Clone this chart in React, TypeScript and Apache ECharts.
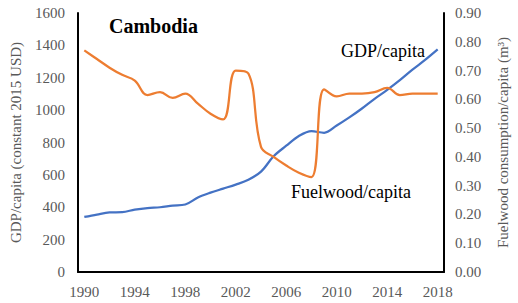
import React, { useEffect, useRef } from "react";
import * as echarts from "echarts";

const years = [
  "1990", "1991", "1992", "1993", "1994", "1995", "1996", "1997", "1998", "1999",
  "2000", "2001", "2002", "2003", "2004", "2005", "2006", "2007", "2008", "2009",
  "2010", "2011", "2012", "2013", "2014", "2015", "2016", "2017", "2018",
];

const gdpPerCapita = [
  340, 355, 368, 370, 385, 395, 400, 410, 417, 460,
  490, 515, 540, 570, 620, 715, 780, 840, 870, 860,
  905, 955, 1010, 1070, 1125, 1185, 1250, 1310, 1375,
];

const fuelwoodPerCapita = [
  0.77, 0.74, 0.71, 0.685, 0.665, 0.615, 0.625, 0.605, 0.62, 0.585,
  0.55, 0.53, 0.7, 0.69, 0.435, 0.4, 0.37, 0.345, 0.33, 0.635,
  0.61, 0.62, 0.62, 0.625, 0.64, 0.615, 0.62, 0.62, 0.62,
];

const leftTicks = { min: 0, max: 1600, interval: 200 };
const rightTicks = { min: 0, max: 0.9, interval: 0.1 };

const FONT = "Liberation Serif, serif";
const GRAY = "#595959";

export default function App() {
  const ref = useRef<HTMLDivElement>(null);

  useEffect(() => {
    if (!ref.current) return;
    document.body.style.margin = "0";
    const chart = echarts.init(ref.current, undefined, { renderer: "svg" });
    chart.setOption({
      animation: false,
      textStyle: { fontFamily: FONT },
      grid: { left: 73, right: 62, top: 13, bottom: 31, containLabel: false },
      xAxis: {
        type: "category",
        data: years,
        boundaryGap: true,
        axisLine: { show: true, lineStyle: { color: "#000", width: 2 } },
        axisTick: { show: false },
        axisLabel: {
          interval: 3,
          color: GRAY,
          fontSize: 15,
          fontFamily: FONT,
          margin: 12,
        },
        splitLine: { show: false },
      },
      yAxis: [
        {
          type: "value",
          min: leftTicks.min,
          max: leftTicks.max,
          interval: leftTicks.interval,
          position: "left",
          name: "GDP/capita (constant 2015 USD)",
          nameLocation: "middle",
          nameRotate: 90,
          nameGap: 55,
          nameTextStyle: { color: GRAY, fontSize: 15, fontFamily: FONT },
          axisLine: { show: true, lineStyle: { color: "#000", width: 2 } },
          axisTick: { show: false },
          axisLabel: {
            color: GRAY,
            fontSize: 15,
            fontFamily: FONT,
            margin: 13,
            formatter: (v: number) => String(v),
          },
          splitLine: { show: false },
        },
        {
          type: "value",
          min: rightTicks.min,
          max: rightTicks.max,
          interval: rightTicks.interval,
          position: "right",
          name: "Fuelwood consumption/capita (m³)",
          nameLocation: "middle",
          nameRotate: 90,
          nameGap: 51,
          nameTextStyle: { color: GRAY, fontSize: 15, fontFamily: FONT },
          axisLine: { show: true, lineStyle: { color: "#000", width: 2 } },
          axisTick: { show: false },
          axisLabel: {
            color: GRAY,
            fontSize: 15,
            fontFamily: FONT,
            margin: 11,
            formatter: (v: number) => v.toFixed(2),
          },
          splitLine: { show: false },
        },
      ],
      series: [
        {
          name: "GDP/capita",
          type: "line",
          yAxisIndex: 0,
          data: gdpPerCapita,
          smooth: 0.35,
          symbol: "none",
          lineStyle: { color: "#4472C4", width: 2.25 },
          itemStyle: { color: "#4472C4" },
          z: 2,
        },
        {
          name: "Fuelwood/capita",
          type: "line",
          yAxisIndex: 1,
          data: fuelwoodPerCapita,
          smooth: 0.4,
          symbol: "none",
          lineStyle: { color: "#ED7D31", width: 2.25 },
          itemStyle: { color: "#ED7D31" },
          z: 3,
        },
      ],
      graphic: [
        {
          type: "text",
          left: 109,
          top: 16,
          style: {
            text: "Cambodia",
            fill: "#000",
            font: `bold 20px ${FONT}`,
          },
        },
        {
          type: "text",
          left: 341,
          top: 42,
          style: {
            text: "GDP/capita",
            fill: "#000",
            font: `18px ${FONT}`,
          },
        },
        {
          type: "text",
          left: 291,
          top: 183,
          style: {
            text: "Fuelwood/capita",
            fill: "#000",
            font: `18px ${FONT}`,
          },
        },
      ],
    });
    return () => chart.dispose();
  }, []);

  return <div ref={ref} style={{ width: 518, height: 303 }} />;
}
